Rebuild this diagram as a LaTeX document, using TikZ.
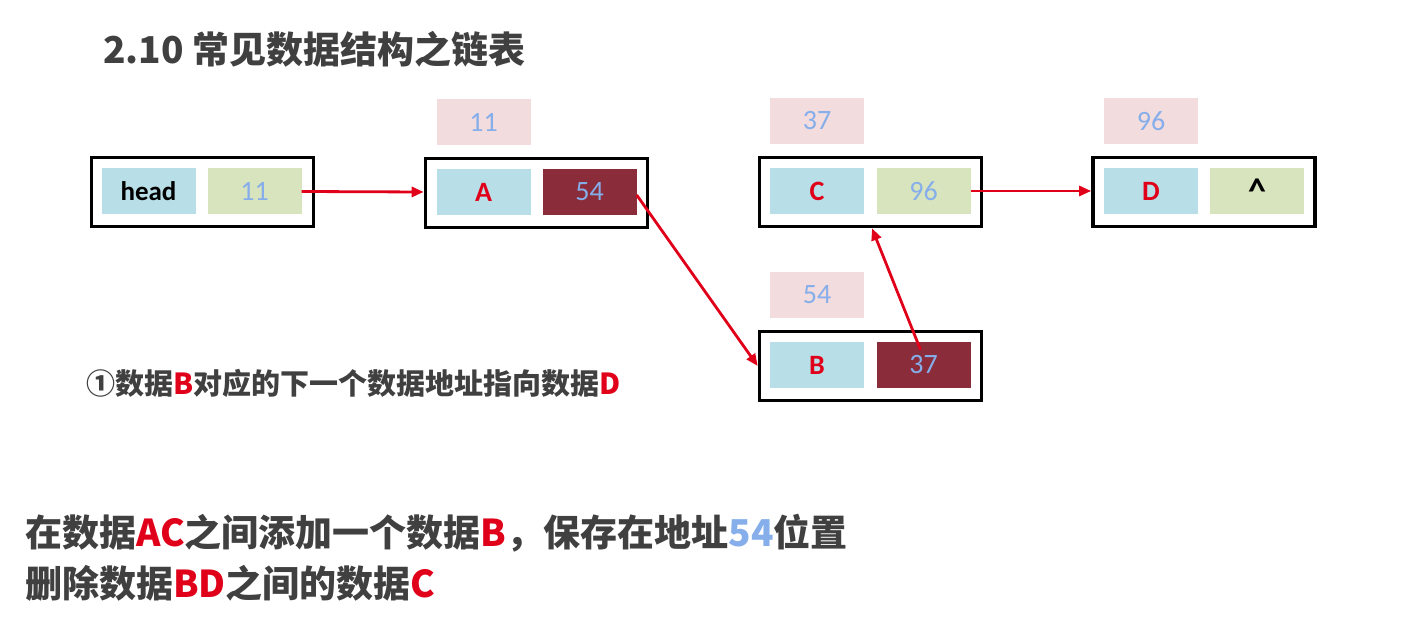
\documentclass[tikz,border=0pt]{standalone}
\usepackage{fontspec}
\setmainfont{Noto Sans CJK SC}
\newfontfamily\latn{Carlito}
\usetikzlibrary{arrows.meta,calc}
\definecolor{cellblue}{HTML}{B8DEE7}
\definecolor{cellgreen}{HTML}{D8E4BE}
\definecolor{darkred}{HTML}{8A2C3A}
\definecolor{pinkbg}{HTML}{F2DCDE}
\definecolor{numblue}{HTML}{86AEEA}
\definecolor{hotred}{HTML}{E0001A}
\definecolor{txtgray}{HTML}{404040}
\begin{document}
\begin{tikzpicture}[x=1pt,y=-1pt,
  outer/.style={draw=black,line width=3.6pt,minimum width=222pt,minimum height=69pt,inner sep=0pt},
  cell/.style={minimum width=94pt,minimum height=46pt,inner sep=0pt,font=\latn\fontsize{28}{30}\selectfont},
  datacell/.style={cell,fill=cellblue,text=hotred,font=\latn\bfseries\fontsize{28}{30}\selectfont},
  nextcell/.style={cell,fill=cellgreen,text=numblue},
  darkcell/.style={cell,fill=darkred,text=numblue},
  addr/.style={cell,fill=pinkbg,text=numblue},
  link/.style={draw=hotred,line width=2.8pt,-{Triangle[length=12pt,width=10pt]}},
  note/.style={anchor=base west,inner sep=0pt,text=txtgray,font=\bfseries}
]
\fill[white] (0,0) rectangle (1401,628);
\useasboundingbox (0,0) rectangle (1401,628);

% title
\node[note,font=\bfseries\fontsize{37}{40}\selectfont] (title) at (103,64) {2.10 常见数据结构之链表};

% head
\node[outer] (hbox) at (202.5,192) {};
\node[cell,fill=cellblue,text=black,font=\latn\bfseries\fontsize{27}{30}\selectfont] (hd) at (148.5,191.5) {head};
\node[nextcell] (hn) at (254.5,191.5) {11};

% A
\node[outer] (abox) at (536.5,193) {};
\node[datacell] (ad) at (483.5,192) {A};
\node[darkcell] (an) at (589.5,192) {54};
\node[addr] (aaddr) at (483.5,122) {11};

% C
\node[outer] (cbox) at (870.5,192) {};
\node[datacell] (cd) at (817,191) {C};
\node[nextcell] (cn) at (923.5,191) {96};
\node[addr] (caddr) at (817,121) {37};

% D
\node[outer] (dbox) at (1204,192) {};
\node[datacell] (dd) at (1151,191) {D};
\node[nextcell,text=black,font=\latn\bfseries\fontsize{36}{36}\selectfont] (dn) at (1257,191) {\raisebox{-6pt}{\textasciicircum}};
\node[addr] (daddr) at (1151,121) {96};

% B
\node[outer] (bbox) at (870.5,366) {};
\node[datacell] (bd) at (817,365) {B};
\node[darkcell] (bn) at (923.5,365) {37};
\node[addr] (baddr) at (817,295) {54};

% links
\draw[link] (hn.east) -- (hbox.east -| abox.west);
\draw[link] ($(an.east)+(0,3)$) -- (bbox.west);
\draw[link] ($(bn.north)+(-3,8)$) -- ($(cbox.south)+(1.5,0)$);
\draw[link] (cn.east) -- (cn.east -| dbox.west);

% notes
\node[note,font=\bfseries\fontsize{29}{32}\selectfont] (n1) at (86,395)
  {①数据{\color{hotred}B}对应的下一个数据地址指向数据{\color{hotred}D}};
\node[note,font=\bfseries\fontsize{37}{40}\selectfont] (n2) at (25,546)
  {在数据{\color{hotred}AC}之间添加一个数据{\color{hotred}B}，保存在地址{\color{numblue}54}位置};
\node[note,font=\bfseries\fontsize{37}{40}\selectfont] (n3) at (25,597)
  {删除数据{\color{hotred}BD}之间的数据{\color{hotred}C}};
\end{tikzpicture}
\end{document}
